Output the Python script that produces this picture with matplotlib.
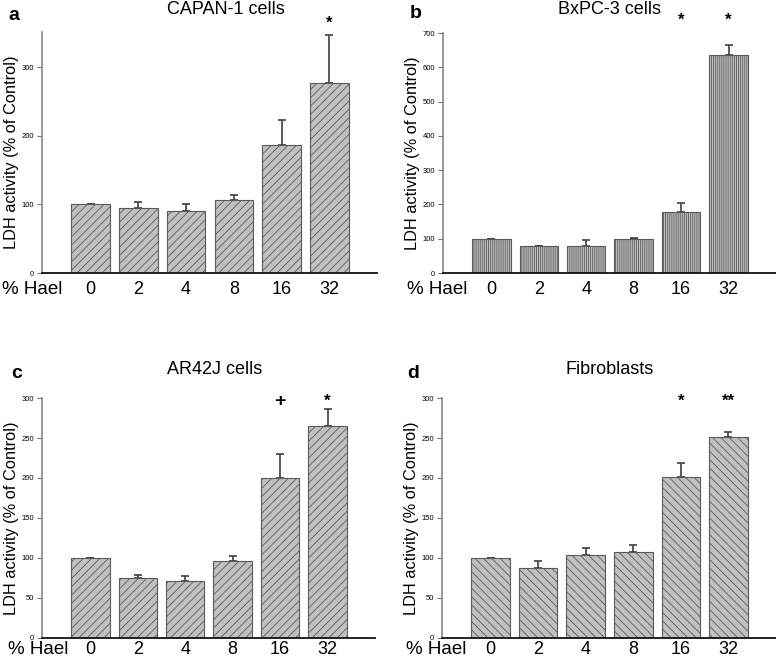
import matplotlib
matplotlib.use('Agg')
import matplotlib.pyplot as plt
from matplotlib.transforms import blended_transform_factory

plt.rcParams['font.family'] = ['Liberation Sans', 'DejaVu Sans']
plt.rcParams['hatch.linewidth'] = 0.6

doses = ["0", "2", "4", "8", "16", "32"]

capan_vals = [100, 94, 90, 106, 187, 276]
capan_err = [0, 9, 11, 7, 36, 71]
capan_marks = ["", "", "", "", "", "*"]

bxpc_vals = [100, 80, 80, 98, 178, 635]
bxpc_err = [0, 0, 15, 4, 25, 30]
bxpc_marks = ["", "", "", "", "*", "*"]

ar42j_vals = [100, 75.5, 71.5, 96.5, 200.5, 264.5]
ar42j_err = [0, 3, 6, 6, 30, 22]
ar42j_marks = ["", "", "", "", "+", "*"]

fibro_vals = [100, 88, 104, 107, 201, 251]
fibro_err = [0, 8, 8, 9, 17.5, 7]
fibro_marks = ["", "", "", "", "*", "**"]

W, H = 776, 658


def px_axes(fig, left, right, top, bottom):
    return fig.add_axes([left / W, 1 - bottom / H, (right - left) / W, (bottom - top) / H])


def draw_panel(ax, vals, errs, marks, hatch, ymax, yticks, mark_y, mark_sizes, xpad):
    x = list(range(len(doses)))
    ax.bar(x, vals, width=0.81, color='#c0c0c0', edgecolor='#5a5a5a',
           linewidth=0.8, hatch=hatch, zorder=2)
    ax.errorbar(x, vals, yerr=[[0] * len(errs), errs], fmt='none',
                ecolor='#404040', elinewidth=1.2, capsize=3, capthick=1.2, zorder=1)
    ax.set_xlim(-1.02, 6.0)
    ax.set_ylim(0, ymax)
    ax.set_yticks(yticks)
    ax.set_xticks(x)
    ax.set_xticklabels(doses, fontsize=13)
    ax.tick_params(axis='x', length=0, pad=xpad)
    ax.tick_params(axis='y', labelsize=5.5, length=3.5, width=0.8, color='#777777', pad=2)
    for s in ['top', 'right']:
        ax.spines[s].set_visible(False)
    ax.spines['left'].set_color('#888888')
    ax.spines['left'].set_linewidth(1.2)
    ax.spines['bottom'].set_color('#111111')
    ax.spines['bottom'].set_linewidth(1.3)
    ax.set_ylabel("LDH activity (% of Control)", fontsize=11.8, labelpad=2)
    trans = blended_transform_factory(ax.transData, ax.transAxes)
    for xi, m in zip(x, marks):
        if m:
            ax.text(xi, mark_y, m, transform=trans, ha='center', va='center',
                    fontsize=mark_sizes.get(m, 12), fontweight='bold', clip_on=False)


fig = plt.figure(figsize=(W / 100, H / 100), dpi=100)

ax_a = px_axes(fig, 42, 377, 32, 273)
draw_panel(ax_a, capan_vals, capan_err, capan_marks, '////', 351,
           [0, 100, 200, 300], 1.035, {"*": 12}, 6)
ax_b = px_axes(fig, 443, 776, 33, 273)
draw_panel(ax_b, bxpc_vals, bxpc_err, bxpc_marks, '||||||||', 700,
           [0, 100, 200, 300, 400, 500, 600, 700], 1.055, {"*": 12}, 6)
ax_c = px_axes(fig, 42, 375, 398, 638)
draw_panel(ax_c, ar42j_vals, ar42j_err, ar42j_marks, '////', 300,
           [0, 50, 100, 150, 200, 250, 300], 0.985, {"*": 12, "+": 14}, 2)
ax_d = px_axes(fig, 442, 776, 398, 638)
draw_panel(ax_d, fibro_vals, fibro_err, fibro_marks, '\\\\\\\\', 300,
           [0, 50, 100, 150, 200, 250, 300], 0.985, {"*": 12, "**": 12}, 2)

# titles, panel letters, "% Hael" labels (figure pixel positions)
def ftext(xp, yp, s, **kw):
    fig.text(xp / W, 1 - yp / H, s, ha='center', va='center', **kw)

ftext(226, 10, "CAPAN-1 cells", fontsize=13)
ftext(609, 9, "BxPC-3 cells", fontsize=13)
ftext(215, 369, "AR42J cells", fontsize=13)
ftext(610, 369, "Fibroblasts", fontsize=13)

ftext(14, 15, "a", fontsize=14, fontweight='bold')
ftext(416, 14, "b", fontsize=14, fontweight='bold')
ftext(17, 374, "c", fontsize=14, fontweight='bold')
ftext(413, 374, "d", fontsize=14, fontweight='bold')

ftext(32, 290, "% Hael", fontsize=13.5)
ftext(437, 290, "% Hael", fontsize=13.5)
ftext(38, 650, "% Hael", fontsize=13.5)
ftext(436, 650, "% Hael", fontsize=13.5)

fig.savefig('out.png', dpi=100)
